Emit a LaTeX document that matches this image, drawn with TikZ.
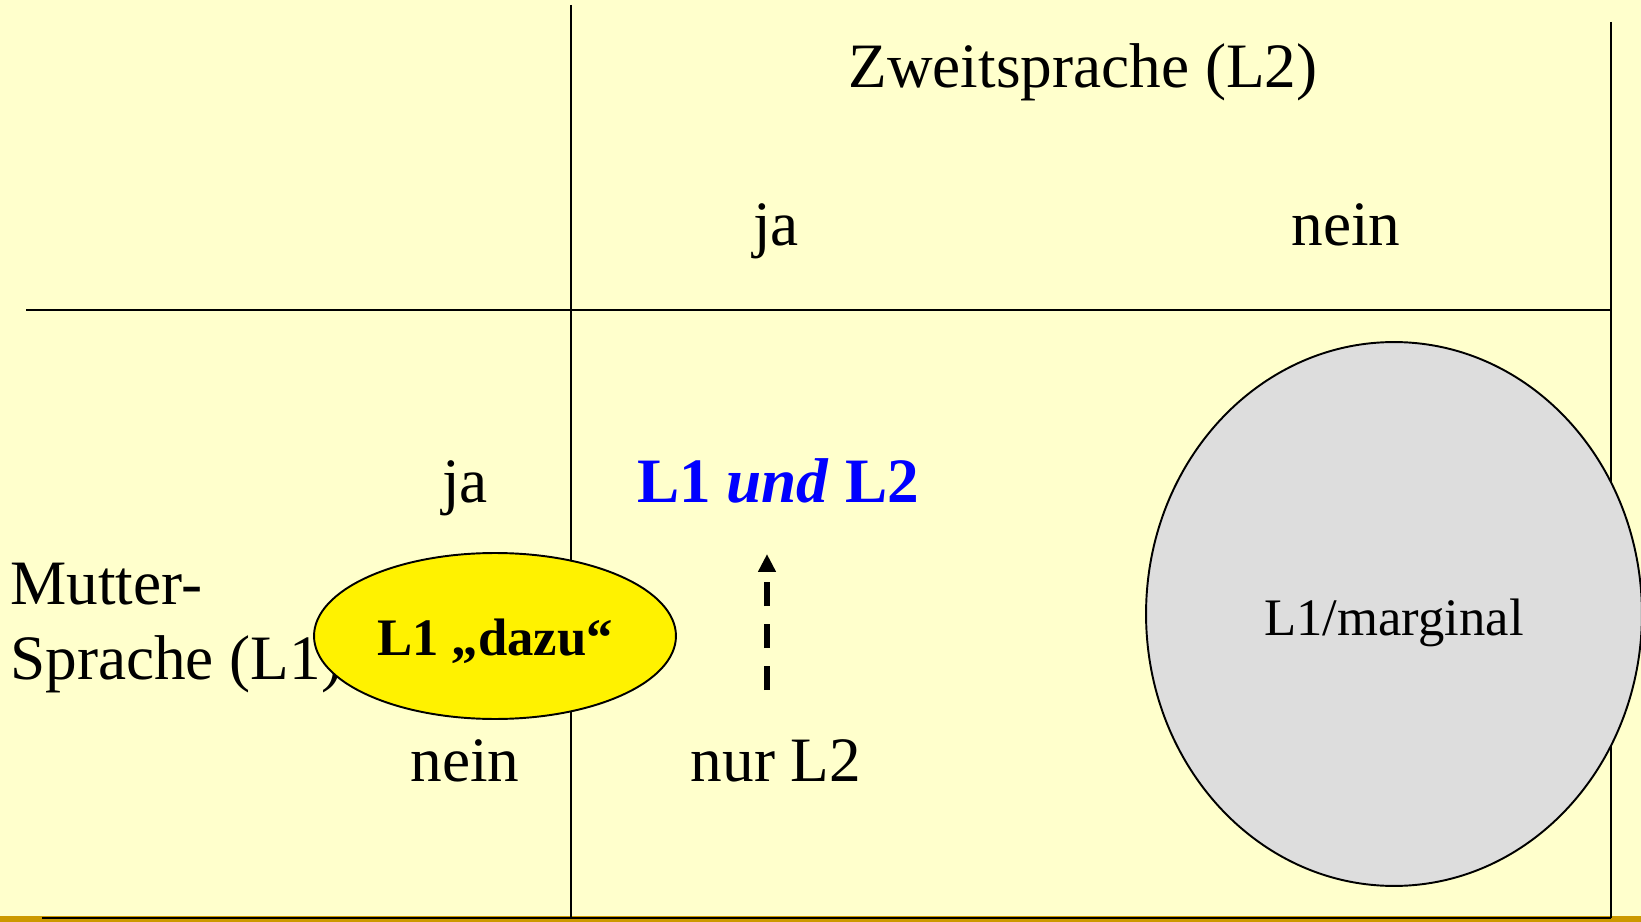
\documentclass[tikz,border=0pt]{standalone}
\usepackage{fontspec}
\setmainfont{Liberation Serif}
\usetikzlibrary{shapes.geometric,arrows.meta,positioning}
\definecolor{slidebg}{RGB}{255,255,204}
\definecolor{slidegold}{RGB}{204,153,0}
\definecolor{markgray}{RGB}{221,221,221}
\begin{document}
\begin{tikzpicture}[x=0.02cm, y=-0.02cm,
    grid line/.style={line width=1.1pt},
    cell text/.style={anchor=base, inner sep=0pt, font=\fontsize{36}{43}\selectfont},
    blob/.style={draw, ellipse, line width=1.1pt, inner sep=0pt},
    blob text/.style={anchor=base, inner sep=0pt, font=\fontsize{30}{36}\selectfont}]
    % slide background
    \useasboundingbox (0,0) rectangle (1641,922);
    \fill[slidebg] (0,0) rectangle (1641,922);
    \fill[slidegold] (0,916) rectangle (1641,922);

    % table lines
    \draw[grid line] (571,5) -- (571,918);
    \draw[grid line] (1611,22) -- (1611,918);
    \draw[grid line] (26,310) -- (1611,310);
    \draw[grid line] (42,918) -- (1611,918);

    % headings
    \node[cell text] (l2head) at (1083,88) {Zweitsprache (L2)};
    \node[cell text] (l2ja) at (776,246) {ja};
    \node[cell text] (l2nein) at (1346,246) {nein};
    \node[cell text, anchor=west, align=left] (l1head) at (10,628) {Mutter-\\Sprache (L1)};
    \node[cell text] (l1ja) at (465,502) {ja};
    \node[cell text] (l1nein) at (465,781) {nein};

    % cells
    \node[cell text, text=blue, font=\fontsize{36}{43}\selectfont\bfseries] (both) at (778,502) {L1 \textit{und} L2};
    \node[cell text] (onlyl2) at (776,781) {nur L2};
    \coordinate (shiftfoot) at (767,690);
    \coordinate (shifttip) at (767,554);
    \draw[line width=3.4pt, dash pattern=on 0.48cm off 0.36cm, -{Triangle[length=0.36cm, width=0.34cm]}] (shiftfoot) -- (shifttip);

    \node[blob, fill=yellow, minimum width=7.24cm, minimum height=3.32cm] (dazu) at (495,636) {};
    \node[blob text, font=\fontsize{30}{36}\selectfont\bfseries] (dazutext) at (495,655) {L1 „dazu“};
    \node[blob, fill=markgray, minimum width=9.92cm, minimum height=10.88cm] (marginal) at (1394,614) {};
    \node[blob text] (marginaltext) at (1394,635) {L1/marginal};
\end{tikzpicture}
\end{document}
